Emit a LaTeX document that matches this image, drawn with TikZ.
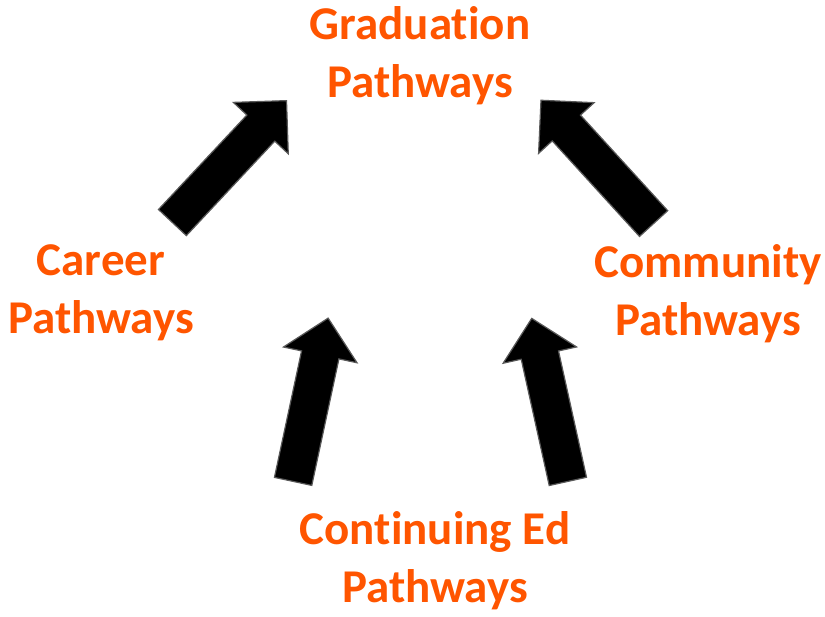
\documentclass[tikz,border=0pt]{standalone}
\usepackage{fontspec}
\setmainfont[Ligatures=NoCommon]{Carlito}
\usetikzlibrary{shapes.arrows}

\definecolor{pathorange}{RGB}{255,85,0}

\tikzstyle{p} = [align=center, inner sep=0pt, text=pathorange, font=\fontsize{47}{58}\selectfont\bfseries]
\tikzstyle{a} = [single arrow, anchor=tail, fill=black, draw=black!65, line width=1.2pt, inner xsep=0pt, inner ysep=18.5pt, single arrow head extend=18.5pt, single arrow tip angle=90, minimum height=167pt]

\begin{document}
\begin{tikzpicture}[x=1pt,y=-1pt]
\useasboundingbox (0,0) rectangle (825,617);

\node[p] (graduation) at (420,56) {Graduation\\Pathways};
\node[p] (career) at (101,293) {Career\\Pathways};
\node[p] (community) at (708,294) {Community\\Pathways};
\node[p] (continuing) at (435,561) {Continuing Ed\\Pathways};

% arrows pointing up to graduation
\node[a, rotate=46.9] (careerArrow) at (172,223) {};
\node[a, rotate=132.4] (communityArrow) at (654,224) {};
\node[a, rotate=77.9] (contLeftArrow) at (293,482) {};
\node[a, rotate=102.5] (contRightArrow) at (568,482) {};

\end{tikzpicture}
\end{document}
